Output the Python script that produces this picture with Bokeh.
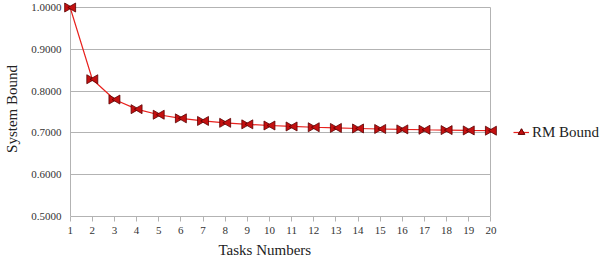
import math
from bokeh.plotting import figure
from bokeh.models import Legend, LegendItem, FixedTicker, NumeralTickFormatter, Range1d, Title
from bokeh.transform import dodge
from bokeh.embed import file_html
from bokeh.resources import INLINE

tasks = list(range(1, 21))
rm_bound = [1.0000, 0.8284, 0.7798, 0.7568, 0.7435, 0.7348, 0.7286, 0.7241, 0.7205, 0.7177,
            0.7154, 0.7135, 0.7119, 0.7106, 0.7094, 0.7084, 0.7075, 0.7067, 0.7059, 0.7053]
y_ticks = [0.5, 0.6, 0.7, 0.8, 0.9, 1.0]
x_bounds = (1, 20)
y_bounds = (0.5, 1.0)

FONT = "Liberation Serif"
GRID = "#b3b3b3"

# frame extends to the right edge so the legend can sit inside it (right of the plot area)
p = figure(width=606, height=261, output_backend="svg", toolbar_location=None,
           x_range=Range1d(0.70, 25.22), y_range=Range1d(0.5, 1.0144),
           min_border_left=63, min_border_right=0, min_border_top=1, min_border_bottom=0)
p.frame_width = 543
p.frame_height = 215

line = p.line(tasks, rm_bound, line_color="#e8221e", line_width=1.2)
src = dict(x=tasks, y=rm_bound)
left = p.scatter(x=dodge('x', -0.13), y='y', source=src, marker="triangle", size=9,
                 angle=-math.pi / 2, fill_color="#c41010", line_color="#5a0000", line_width=0.8)
right = p.scatter(x=dodge('x', 0.13), y='y', source=src, marker="triangle", size=9,
                  angle=math.pi / 2, fill_color="#c41010", line_color="#5a0000", line_width=0.8)

p.xaxis.ticker = FixedTicker(ticks=tasks)
p.yaxis.ticker = FixedTicker(ticks=y_ticks)
p.yaxis.formatter = NumeralTickFormatter(format="0.0000")
p.xaxis.bounds = x_bounds

for ax in (p.xaxis, p.yaxis):
    ax.axis_line_color = GRID
    ax.major_tick_line_color = GRID
    ax.minor_tick_line_color = None
    ax.major_label_text_font = FONT
    ax.major_label_text_font_size = "11px"
    ax.major_label_text_color = "#333333"
    ax.axis_label_text_font = FONT
    ax.axis_label_text_font_size = "15px"
    ax.axis_label_text_font_style = "normal"
    ax.axis_label_text_color = "#222222"
p.yaxis.axis_line_color = None
p.xaxis.major_tick_in = 0
p.xaxis.major_tick_out = 5
p.yaxis.major_tick_in = 0
p.yaxis.major_tick_out = 0
p.yaxis.major_label_standoff = 2
p.yaxis.axis_label = "System Bound"
p.yaxis.axis_label_standoff = 8

# x-axis title centred under the plot area (not under the wider frame)
xtitle = Title(text="Tasks Numbers", align="left", offset=155, standoff=7,
               text_font=FONT, text_font_size="15px", text_font_style="normal",
               text_color="#222222")
p.add_layout(xtitle, "below")

p.xgrid.ticker = FixedTicker(ticks=list(x_bounds))
p.xgrid.grid_line_color = GRID
p.xgrid.cross_bounds = y_bounds
p.ygrid.grid_line_color = GRID
p.ygrid.cross_bounds = x_bounds
p.outline_line_color = None
p.background_fill_color = "white"
p.border_fill_color = "white"

legend = Legend(items=[LegendItem(label="RM Bound", renderers=[line, left, right])],
                location=(450, 74), border_line_color=None, background_fill_alpha=0,
                label_text_font=FONT, label_text_font_size="15px", label_text_color="#222222",
                glyph_width=16, margin=0, padding=2, label_standoff=3)
p.add_layout(legend)

open("out.html", "w").write(file_html(p, INLINE))
